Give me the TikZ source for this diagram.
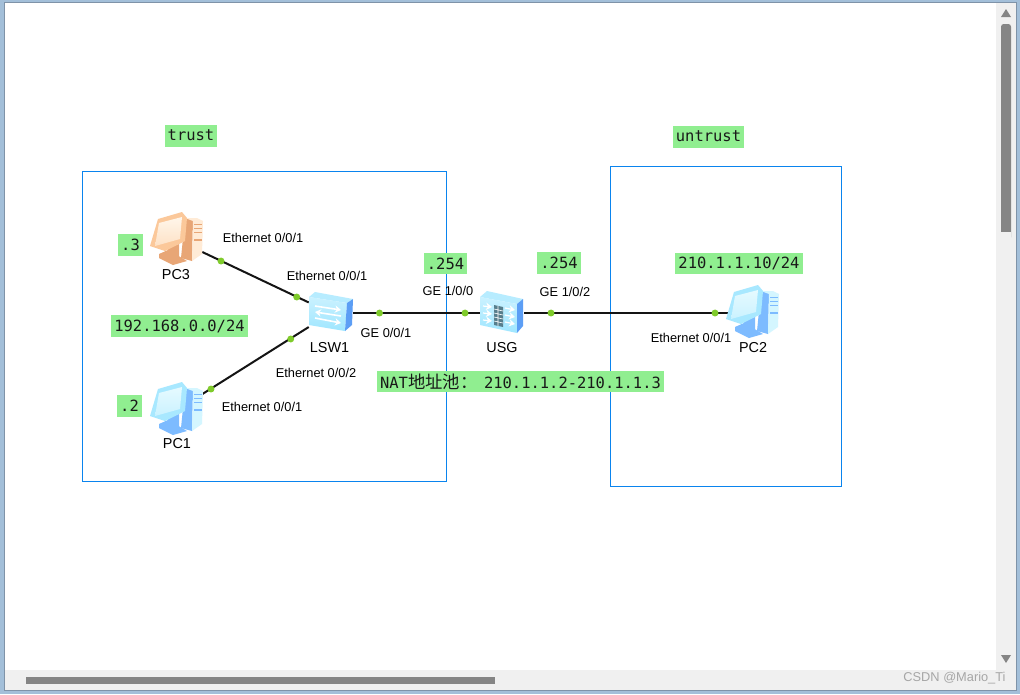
\documentclass[tikz,border=0pt]{standalone}
\usepackage{fontspec}
\usetikzlibrary{arrows.meta}
\setmainfont{Liberation Sans}
\newfontfamily\monof{DejaVu Sans Mono}
\newfontfamily\cjkf{Noto Sans CJK SC}
\definecolor{winblue}{HTML}{A3BFD9}
\definecolor{winedge}{HTML}{7F93A8}
\definecolor{barbg}{HTML}{F0F0F0}
\definecolor{thumb}{HTML}{858585}
\definecolor{zone}{HTML}{0A84EE}
\definecolor{tag}{HTML}{90EE90}
\definecolor{dotc}{HTML}{7FCB2B}
\definecolor{swsky}{HTML}{9FE6FF}
\definecolor{swside}{HTML}{5C9EF5}
\definecolor{bfr}{HTML}{A8E8FF}
\definecolor{bsc}{HTML}{E6FAFF}
\definecolor{bsd}{HTML}{7DBBFF}
\definecolor{bfc}{HTML}{D4F6FF}
\definecolor{ofr}{HTML}{FBC89A}
\definecolor{osc}{HTML}{FFF6EA}
\definecolor{osd}{HTML}{E8A676}
\definecolor{ofc}{HTML}{FFEBD6}
\tikzset{
  x=0.75pt,y=-0.75pt,
  zonebox/.style={draw=zone,line width=0.75pt,fill=none},
  tagbox/.style={fill=tag,inner sep=0pt,font=\monof\fontsize{11.6}{14}\selectfont,text=black!90},
  port/.style={inner sep=0pt,font=\fontsize{9.6}{12}\selectfont},
  devname/.style={inner sep=0pt,font=\fontsize{10.8}{13}\selectfont},
  hub/.style={inner sep=0pt,minimum width=#1,minimum height=44*0.75pt},
  wire/.style={line width=1.5pt,black!92},
  portdot/.style={circle,fill=dotc,inner sep=0pt,minimum size=5.2pt},
  swarrow/.style={white,line width=1.2pt,-{Stealth[length=4.5pt,width=5.5pt]}},
  pics/pcicon/.style n args={4}{code={
    % tower
    \fill[#2] (8,-22) -- (16,-20) -- (15,21) -- (4,18) -- cycle;
    \fill[#4] (8,-22) -- (20,-22) -- (26,-19) -- (16,-19) -- cycle;
    \fill[#4] (16,-20) -- (26,-19) -- (25,14) -- (15,21) -- cycle;
    \draw[#2,line width=0.5pt] (17,-16) -- (25,-16) (17,-12) -- (25,-12) (17,-8) -- (25,-8);
    \draw[#2,line width=0.9pt] (17,0) -- (25,0);
    % base
    \fill[#2] (-18,14) -- (-9,10) -- (5,18) -- (10,21) -- (-4,25) -- (-18,18) -- cycle;
    \fill[#2] (-9,8) -- (2,4) -- (2,17) -- (-9,16) -- cycle;
    % monitor
    \fill[#1] (-19,-21) -- (5,-28) -- (10,-22) -- (8,1) -- (-12,11) -- (-27,6) -- cycle;
    \shade[top color=#3,bottom color=#3!55!#1] (-18,-17) -- (5,-23) -- (3,-1) -- (-22,6) -- cycle;
  }},
  pics/swicon/.style={code={
    \fill[swsky!75!white] (-16,-21) -- (22,-14) -- (16,-10) -- (-22,-16) -- cycle;
    \shade[top color=swsky!55!white,bottom color=swsky] (-22,-16) -- (16,-10) -- (14,18) -- (-22,12) -- cycle;
    \fill[swside] (16,-10) -- (22,-14) -- (21,12) -- (14,18) -- cycle;
    \draw[swarrow] (-16,-7) -- (10,-3);
    \draw[swarrow] (10,3) -- (-16,-1);
    \draw[swarrow] (-16,5) -- (10,10);
  }},
  pics/fwicon/.style={code={
    \fill[swsky!75!white] (-15,-22) -- (21,-14) -- (15,-9) -- (-22,-16) -- cycle;
    \shade[top color=swsky!55!white,bottom color=swsky] (-22,-16) -- (15,-9) -- (15,20) -- (-22,12) -- cycle;
    \fill[swside] (15,-9) -- (21,-14) -- (21,13) -- (15,20) -- cycle;
    \fill[black!45!swsky] (-8,-8) -- (1,-6) -- (1,14) -- (-8,12) -- cycle;
    \draw[white,line width=0.45pt] (-8,-4) -- (1,-2) (-8,0) -- (1,2) (-8,4) -- (1,6) (-8,8) -- (1,10) (-4,-7) -- (-4,13);
    \foreach \ya in {-7,0,7}{
      \draw[swarrow,line width=0.9pt] (-19,\ya) -- (-10,\ya+1);
      \draw[swarrow,line width=0.9pt] (3,\ya+2) -- (13,\ya+4);
    }
  }}
}
\begin{document}
\begin{tikzpicture}
\useasboundingbox (0,0) rectangle (1020,694);
% window
\fill[winblue] (0,0) rectangle (1020,694);
\fill[winedge] (4,2) rectangle (1017,691);
\fill[white] (5,3) rectangle (1016,690);
\fill[barbg] (996,3) rectangle (1016,690);
\fill[barbg] (5,670) rectangle (1016,690);
\fill[thumb,rounded corners=2pt] (1001,24) rectangle (1011,240);
\fill[barbg] (1001,232) rectangle (1011,241);
\fill[thumb] (26,677) rectangle (495,684);
\fill[thumb] (1006,9) -- (1011,17) -- (1001,17) -- cycle;
\fill[thumb] (1006,663) -- (1011,655) -- (1001,655) -- cycle;
% zones
\node[zonebox,inner sep=0pt,minimum width=364*0.75pt,minimum height=310*0.75pt] (trustzone) at (264.5,326.5) {};
\node[zonebox,inner sep=0pt,minimum width=231*0.75pt,minimum height=320*0.75pt] (untrustzone) at (726,326.5) {};
% device anchors
\node[hub=50*0.75pt] (pc3) at (177,240) {};
\node[hub=50*0.75pt] (pc1) at (177,410) {};
\node[hub=44*0.75pt] (lsw) at (331,313) {};
\node[hub=44*0.75pt] (usg) at (502,313) {};
\node[hub=48*0.75pt] (pc2) at (753,313) {};
% connectors
\draw[wire] (pc3) -- (lsw);
\draw[wire] (pc1) -- (lsw);
\draw[wire] (lsw) -- (usg);
\draw[wire] (usg) -- (pc2);
% icons
\pic at (177,240) {pcicon={ofr}{osd}{osc}{ofc}};
\pic at (177,410) {pcicon={bfr}{bsd}{bsc}{bfc}};
\pic at (753,313) {pcicon={bfr}{bsd}{bsc}{bfc}};
\pic at (331,313) {swicon};
\pic at (502,313) {fwicon};
% port dots
\node[portdot] (d1) at (221,261) {};
\node[portdot] (d2) at (296.7,297) {};
\node[portdot] (d3) at (290.7,339) {};
\node[portdot] (d4) at (211,389) {};
\node[portdot] (d5) at (379.5,313) {};
\node[portdot] (d6) at (465,313) {};
\node[portdot] (d7) at (551,313) {};
\node[portdot] (d8) at (715,313) {};
% device names
\node[devname] (n1) at (176,275) {PC3};
\node[devname] (n2) at (177,444) {PC1};
\node[devname] (n3) at (329.5,348) {LSW1};
\node[devname] (n4) at (502,347.5) {USG};
\node[devname] (n5) at (753,348) {PC2};
% port names
\node[port] (p1) at (263,238) {Ethernet 0/0/1};
\node[port] (p2) at (327,276) {Ethernet 0/0/1};
\node[port] (p3) at (316,373) {Ethernet 0/0/2};
\node[port] (p4) at (262,407) {Ethernet 0/0/1};
\node[port] (p5) at (386,333) {GE 0/0/1};
\node[port] (p6) at (448,291) {GE 1/0/0};
\node[port] (p7) at (565,292) {GE 1/0/2};
\node[port] (p8) at (691,338) {Ethernet 0/0/1};
% tags
\node[tagbox,minimum width=52*0.75pt,minimum height=22*0.75pt] (t1) at (191,136) {\raisebox{1pt}{trust}};
\node[tagbox,minimum width=71*0.75pt,minimum height=22*0.75pt] (t2) at (708.5,137) {\raisebox{1pt}{untrust}};
\node[tagbox,minimum width=25*0.75pt,minimum height=22*0.75pt] (t3) at (130.5,245) {.3};
\node[tagbox,minimum width=25*0.75pt,minimum height=22*0.75pt] (t4) at (129.5,406) {.2};
\node[tagbox,minimum width=137*0.75pt,minimum height=22*0.75pt] (t5) at (179.5,326) {192.168.0.0/24};
\node[tagbox,minimum width=43*0.75pt,minimum height=21*0.75pt] (t6) at (445.5,263.5) {.254};
\node[tagbox,minimum width=44*0.75pt,minimum height=22*0.75pt] (t7) at (559,263) {.254};
\node[tagbox,minimum width=128*0.75pt,minimum height=21*0.75pt] (t8) at (739,263.5) {210.1.1.10/24};
\node[tagbox,minimum width=287*0.75pt,minimum height=21*0.75pt] (t9) at (520.5,381.5) {NAT{\cjkf\fontsize{13}{14}\selectfont 地址池：}\hspace{5pt}210.1.1.2-210.1.1.3};
% watermark
\node[inner sep=0pt,text=black!35,font=\fontsize{9.6}{12}\selectfont] (wm) at (954.5,678) {CSDN @Mario\_Ti};
\end{tikzpicture}
\end{document}
